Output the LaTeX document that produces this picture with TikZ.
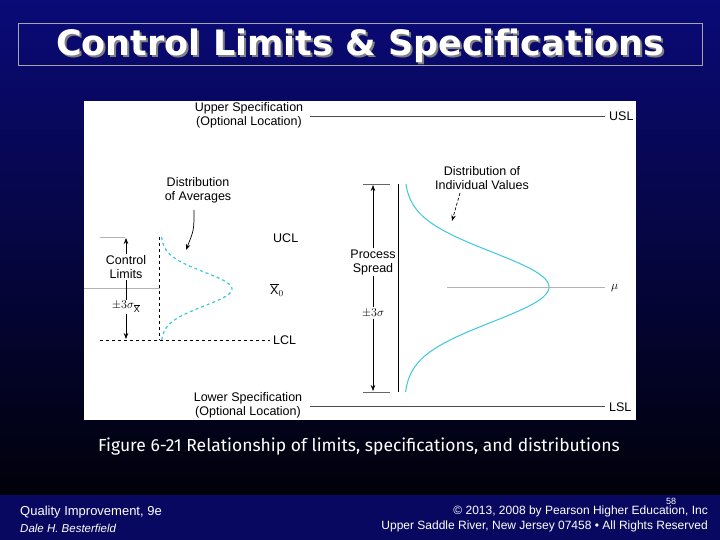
\documentclass[tikz,border=0pt]{standalone}
\usepackage{fontspec}
\setmainfont{Liberation Sans}
\newfontfamily\titlefont{DejaVu Sans}
\newfontfamily\capfont{Fira Sans}
\usetikzlibrary{arrows.meta}
\definecolor{navy}{RGB}{10,10,120}
\definecolor{curve}{RGB}{60,200,220}
\tikzset{lbl/.style={font=\fontsize{12.5}{14}\selectfont,align=center,inner sep=0pt},
thin gray/.style={gray!60,line width=0.5pt},
darr/.style={-{Stealth[length=6pt]},line width=0.7pt},
foot/.style={white,inner sep=0pt,font=\fontsize{12}{14}\selectfont},
ttl/.style={font=\titlefont\fontsize{35}{38}\selectfont\bfseries}}
\begin{document}
\begin{tikzpicture}[x=1pt,y=-1pt]
\useasboundingbox (0,0) rectangle (720,540);
\shade[top color=navy,bottom color=black] (0,0) rectangle (720,540);
\fill[navy!80!black] (0,495) rectangle (720,540);
\draw[gray!70,line width=1pt] (18,24) rectangle (702,66);
\node[ttl,gray] (title) at (362,48) {Control Limits \& Specifications};
\node[ttl,white] (title2) at (360,46) {Control Limits \& Specifications};
\fill[white] (84,101) rectangle (636,420);
% spec lines
\coordinate (usla) at (310,116); \coordinate (uslb) at (605,116);
\coordinate (lsla) at (310,406); \coordinate (lslb) at (605,406);
\draw[thin gray,black!70] (usla) -- (uslb);
\draw[thin gray,black!70] (lsla) -- (lslb);
\node[lbl,anchor=west] (usl) at (609,116) {USL};
\node[lbl,anchor=west] (lsl) at (609,407) {LSL};
\node[lbl] (uspec) at (249,115) {Upper Specification\\(Optional Location)};
\node[lbl] (lspec) at (248,405) {Lower Specification\\(Optional Location)};
% individual distribution
\coordinate (pt) at (398,184); \coordinate (pb) at (398,392);
\draw[line width=0.8pt] (pt) -- (pb);
\draw[curve,line width=1pt,domain=184:392,samples=80,variable=\y] plot ({404+145*exp(-((\y-287)/35)^2/2)},\y);
\coordinate (mua) at (447,287); \coordinate (mub) at (605,287);
\draw[thin gray] (mua) -- (mub);
\node[lbl,anchor=west] (mu) at (611,288) {$\mu$};
\coordinate (sta) at (363,184); \coordinate (stb) at (390,184);
\coordinate (sba) at (363,392); \coordinate (sbb) at (390,392);
\draw[thin gray,black!60] (sta) -- (stb); \draw[thin gray,black!60] (sba) -- (sbb);
\node[lbl,fill=white,inner sep=1pt] (ps) at (373,262) {Process\\Spread};
\node[lbl,fill=white,inner sep=1pt] (p3s) at (373,313) {$\pm3\sigma$};
\coordinate (pa1) at (373,185); \coordinate (pa2) at (373,391);
\draw[darr] (ps.north) -- (pa1);
\draw[darr] (p3s.south) -- (pa2);
\draw (ps.south) -- (p3s.north);
\node[lbl] (divl) at (482,178) {Distribution of\\Individual Values};
\coordinate (divt) at (452,221);
\draw[darr,densely dashed] (460,193) -- (divt);
% averages
\coordinate (lt) at (159,237); \coordinate (lb) at (159,340);
\draw[dashed,line width=0.7pt] (lt) -- (lb);
\draw[curve,dashed,line width=1.2pt,domain=237:340,samples=60,variable=\y] plot ({161+71*exp(-((\y-289)/17)^2/2)},\y);
\coordinate (lcla) at (100,340); \coordinate (lclb) at (270,340);
\draw[dashed,line width=0.7pt] (lcla) -- (lclb);
\coordinate (ucla) at (100,237); \coordinate (uclb) at (125,237);
\draw[thin gray] (ucla) -- (uclb);
\coordinate (xa) at (84,288); \coordinate (xb) at (160,288);
\draw[thin gray] (xa) -- (xb);
\node[lbl,anchor=west] (ucl) at (273,238) {UCL};
\node[lbl,anchor=west] (lcl) at (273,340) {LCL};
\node[lbl,anchor=west] (x0) at (270,290) {$\overline{\mathrm{X}}_0$};
\node[lbl,fill=white,inner sep=1pt] (cl) at (126,267) {Control\\Limits};
\node[lbl,fill=white,inner sep=1pt] (c3s) at (126,307) {$\pm3\sigma_{\overline{\mathrm{X}}}$};
\coordinate (ca1) at (126,238); \coordinate (ca2) at (126,339);
\draw[darr] (cl.north) -- (ca1);
\draw[darr] (c3s.south) -- (ca2);
\draw (cl.south) -- (c3s.north);
\node[lbl] (doa) at (198,190) {Distribution\\of Averages};
\coordinate (doat) at (186,250);
\draw[darr] (194,210) .. controls (194,230) .. (doat);
% caption and footer
\node[white,font=\capfont\fontsize{17.5}{19}\selectfont] (cap) at (359,447) {Figure 6-21 Relationship of limits, specifications, and distributions};
\node[foot,anchor=west,font=\fontsize{13}{15}\selectfont] (f1) at (20,512) {Quality Improvement, 9e};
\node[foot,anchor=west,font=\fontsize{11.5}{13}\itshape] (f2) at (20,528) {Dale H. Besterfield};
\node[foot,anchor=east] (f3) at (708,511) {© 2013, 2008 by Pearson Higher Education, Inc};
\node[foot,anchor=east] (f4) at (708,526) {Upper Saddle River, New Jersey 07458 • All Rights Reserved};
\node[foot,font=\fontsize{9}{10}\selectfont] (pg) at (671,501) {58};
\end{tikzpicture}
\end{document}
